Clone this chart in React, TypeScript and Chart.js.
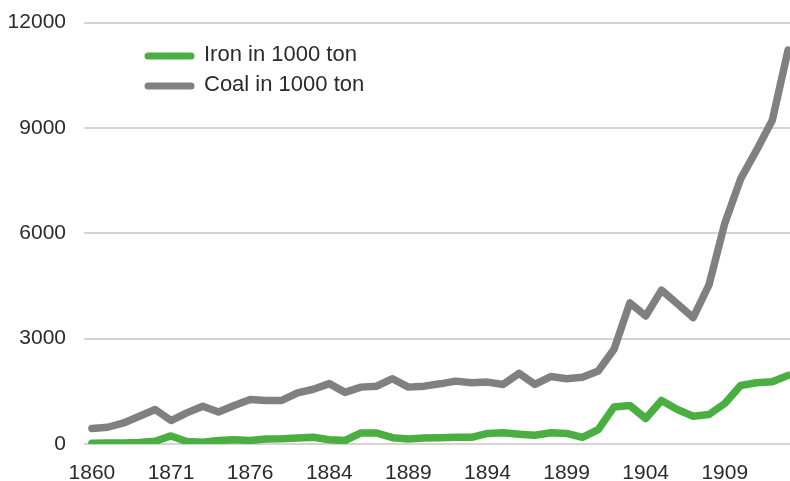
import React, { useEffect, useRef } from "react";
import { Chart, registerables } from "chart.js";

Chart.register(...registerables);

const years: string[] = [
  "1860", "1861", "1864", "1867", "1869", "1871", "1872", "1873", "1874", "1875",
  "1876", "1878", "1880", "1881", "1882", "1884", "1885", "1886", "1887", "1888",
  "1889", "1890", "1891", "1892", "1893", "1894", "1895", "1896", "1897", "1898",
  "1899", "1900", "1901", "1902", "1903", "1904", "1905", "1906", "1907", "1908",
  "1909", "1910", "1911", "1912", "1913",
];

const ironValues: number[] = [
  20, 25, 30, 40, 80, 230, 70, 50, 100, 120,
  100, 140, 150, 170, 190, 120, 100, 314, 314, 180,
  140, 171, 180, 190, 190, 300, 320, 280, 250, 320,
  300, 190, 411, 1057, 1097, 726, 1240, 983, 791, 840,
  1154, 1668, 1743, 1771, 1954,
];

const coalValues: number[] = [
  440, 477, 600, 790, 983, 668, 886, 1077, 914, 1097,
  1268, 1240, 1240, 1457, 1560, 1720, 1470, 1620, 1648, 1860,
  1620, 1648, 1714, 1791, 1743, 1763, 1697, 2010, 1697, 1920,
  1860, 1900, 2080, 2700, 4020, 3648, 4383, 3995, 3600, 4530,
  6290, 7550, 8362, 9220, 11220,
];

const seriesLabels: string[] = ["Iron in 1000 ton", "Coal in 1000 ton"];
const seriesColors: string[] = ["#4aae41", "#7f807f"];
const yTicks: number[] = [0, 3000, 6000, 9000, 12000];

const FONT = "'Liberation Sans', Arial, sans-serif";
const TEXT = "#2b2b2b";

const legendPlugin = {
  id: "customLegend",
  afterDraw(chart: any) {
    const ctx = chart.ctx;
    ctx.save();
    chart.data.datasets.forEach((ds: any, i: number) => {
      const y = 56 + i * 30;
      ctx.beginPath();
      ctx.lineWidth = 7;
      ctx.lineCap = "round";
      ctx.strokeStyle = ds.borderColor;
      ctx.moveTo(148, y);
      ctx.lineTo(191, y);
      ctx.stroke();
      ctx.fillStyle = TEXT;
      ctx.font = `22px ${FONT}`;
      ctx.textBaseline = "middle";
      ctx.textAlign = "left";
      ctx.fillText(ds.label, 204, y - 1);
    });
    ctx.restore();
  },
};

export default function App() {
  const ref = useRef<HTMLCanvasElement | null>(null);

  useEffect(() => {
    document.body.style.margin = "0";
    if (!ref.current) return;
    const chart = new Chart(ref.current, {
      type: "line",
      data: {
        labels: years,
        datasets: [ironValues, coalValues].map((vals, i) => ({
          label: seriesLabels[i],
          data: vals,
          borderColor: seriesColors[i],
          backgroundColor: seriesColors[i],
          borderWidth: 7.5,
          borderCapStyle: "round" as const,
          borderJoinStyle: "round" as const,
          pointRadius: 0,
          tension: 0,
          fill: false,
        })),
      },
      options: {
        animation: false,
        responsive: true,
        maintainAspectRatio: false,
        layout: { padding: { top: 22.7, right: 0, left: 0, bottom: 0 } },
        plugins: {
          legend: { display: false },
          tooltip: { enabled: false },
        },
        scales: {
          x: {
            type: "category",
            offset: true,
            grid: { display: false },
            border: { display: false },
            ticks: {
              autoSkip: false,
              maxRotation: 0,
              padding: 9,
              color: TEXT,
              font: { family: FONT, size: 21 },
              callback: (_v: any, idx: number) => (idx % 5 === 0 ? years[idx] : null),
            },
            afterFit: (scale: any) => {
              scale.height = 37;
              scale.paddingLeft = 0;
              scale.paddingRight = 0;
            },
          },
          y: {
            min: yTicks[0],
            max: yTicks[yTicks.length - 1],
            afterBuildTicks: (scale: any) => {
              scale.ticks = yTicks.map((v) => ({ value: v }));
            },
            grid: { color: "#d4d4d4", lineWidth: 2, drawTicks: false },
            border: { display: false },
            ticks: {
              padding: 18,
              color: TEXT,
              font: { family: FONT, size: 21 },
              callback: (v: any) => String(v),
            },
            afterFit: (scale: any) => {
              scale.width = 84;
              scale.paddingTop = 0;
              scale.paddingBottom = 0;
            },
          },
        },
      },
      plugins: [legendPlugin],
    });
    return () => chart.destroy();
  }, []);

  return (
    <div style={{ position: "fixed", left: 0, top: 0, width: 790, height: 481, overflow: "hidden", background: "#fff" }}>
      <div style={{ position: "absolute", left: 0, top: 0, width: 796, height: 481 }}>
        <canvas ref={ref} />
      </div>
    </div>
  );
}
